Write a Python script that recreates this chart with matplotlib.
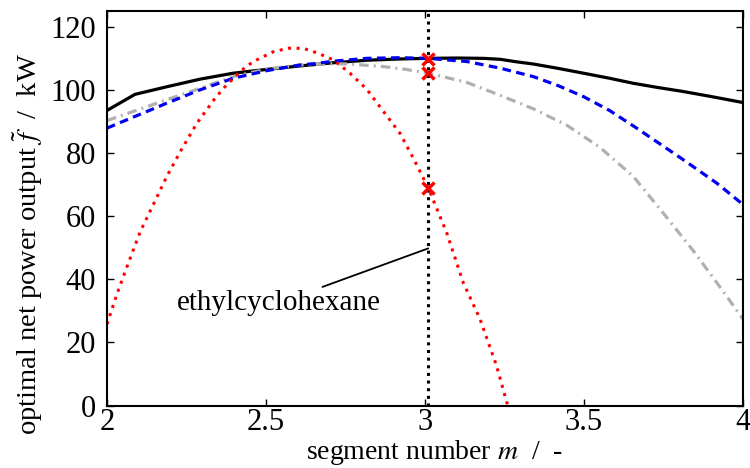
import numpy as np
import matplotlib
matplotlib.use("Agg")
import matplotlib.pyplot as plt

plt.rcParams['font.family'] = ['Liberation Serif', 'DejaVu Serif']
plt.rcParams['mathtext.fontset'] = 'stix'

# black solid curve
m_black = [2.0, 2.088, 2.188, 2.292, 2.397, 2.502, 2.607, 2.712, 2.817, 2.92, 3.01, 3.10, 3.183, 3.236,
           3.288, 3.341, 3.42, 3.498, 3.58, 3.655, 3.73, 3.812, 3.90, 4.0]
f_black = [93.5, 98.6, 101.0, 103.4, 105.3, 106.5, 107.6, 108.6, 109.4, 109.8, 110.0, 110.1, 110.0, 109.7,
           108.9, 108.2, 106.8, 105.3, 103.7, 102.1, 100.8, 99.5, 97.9, 96.0]

# blue dashed curve
m_blue = [2.0, 2.083, 2.188, 2.292, 2.397, 2.502, 2.607, 2.659, 2.712, 2.817, 2.92, 3.01, 3.131, 3.236,
          3.341, 3.42, 3.498, 3.58, 3.655, 3.73, 3.812, 3.917, 4.0]
f_blue = [87.9, 91.4, 95.8, 100.0, 103.7, 106.1, 107.9, 108.4, 109.1, 110.0, 110.2, 110.0, 109.0, 106.9,
          104.2, 101.3, 97.9, 93.5, 88.6, 83.5, 77.9, 70.5, 63.7]

# gray dash-dot curve
m_gray = [2.0, 2.083, 2.188, 2.292, 2.397, 2.502, 2.607, 2.712, 2.764, 2.869, 2.94, 3.01, 3.131, 3.236,
          3.341, 3.446, 3.55, 3.655, 3.749, 3.844, 3.928, 4.0]
f_gray = [90.3, 93.2, 96.9, 100.5, 104.2, 106.6, 107.9, 108.3, 108.2, 107.4, 106.5, 105.3, 102.4, 98.3,
          94.0, 88.8, 81.8, 72.6, 61.0, 49.0, 37.5, 27.4]

# red dotted curve
m_red = [2.0, 2.031, 2.062, 2.104, 2.148, 2.188, 2.234, 2.283, 2.340, 2.371, 2.418, 2.46, 2.523,
         2.570, 2.617, 2.664, 2.712, 2.764, 2.817, 2.869, 2.921, 2.963, 3.01, 3.068, 3.12, 3.173, 3.225, 3.26]
f_red = [25.8, 35.3, 43.8, 55.0, 64.2, 72.6, 81.1, 89.5, 97.4, 101.0, 105.8, 109.0, 112.1,
         113.2, 113.2, 111.6, 109.5, 105.3, 100.2, 93.2, 86.3, 78.4, 69.0, 54.8, 39.0, 27.4, 12.6, 0.0]

m_opt = 3.01
f_opt = [109.8, 105.3, 69.0]

fig = plt.figure(figsize=(7.5, 4.68), dpi=100)
ax = fig.add_axes([0.1427, 0.1333, 0.848, 0.8432])

ax.plot(m_black, f_black, color='black', lw=2.3, solid_joinstyle='round')
ax.plot(m_gray, f_gray, color='#b0b0b0', lw=2.3, linestyle=(0, (3.0, 1.6, 0.6, 1.6)))
ax.plot(m_blue, f_blue, color='#0000ee', lw=2.3, linestyle=(0, (2.7, 1.7)))
ax.plot(m_red, f_red, color='#ff0000', lw=2.2, linestyle=(0, (1, 1.8)))
ax.axvline(m_opt, color='black', lw=2.2, linestyle=(0, (1, 1.5)))
ax.plot([m_opt] * len(f_opt), f_opt, linestyle='none', marker='x', color='#ff0000',
        markersize=9, markeredgewidth=2.5)

ax.annotate('ethylcyclohexane', xy=(m_opt, 49.8), xytext=(2.862, 32.6),
            ha='right', va='center', fontsize=21,
            arrowprops=dict(arrowstyle='-', color='black', lw=1.3, shrinkA=0, shrinkB=0))

ax.set_xlim(2, 4)
ax.set_ylim(0, 125)
ax.set_xticks([2, 2.5, 3, 3.5, 4])
ax.set_xticklabels(['2', '2.5', '3', '3.5', '4'])
ax.set_yticks([0, 20, 40, 60, 80, 100, 120])
ax.tick_params(direction='in', top=True, right=True, labelsize=22, length=5, width=1)
ax.tick_params(axis='y', pad=8)
ax.tick_params(axis='x', pad=2)
for s in ax.spines.values():
    s.set_linewidth(1.5)

ax.set_xlabel(r'segment number $m$  /  -', fontsize=20, labelpad=0)
ax.xaxis.set_label_coords(0.515, -0.081)
ax.set_ylabel(r'optimal net power output $\tilde{f}$  /  kW', fontsize=20.5)
ax.yaxis.set_label_coords(-0.098, 0.41)

fig.savefig('out.png', dpi=100)
